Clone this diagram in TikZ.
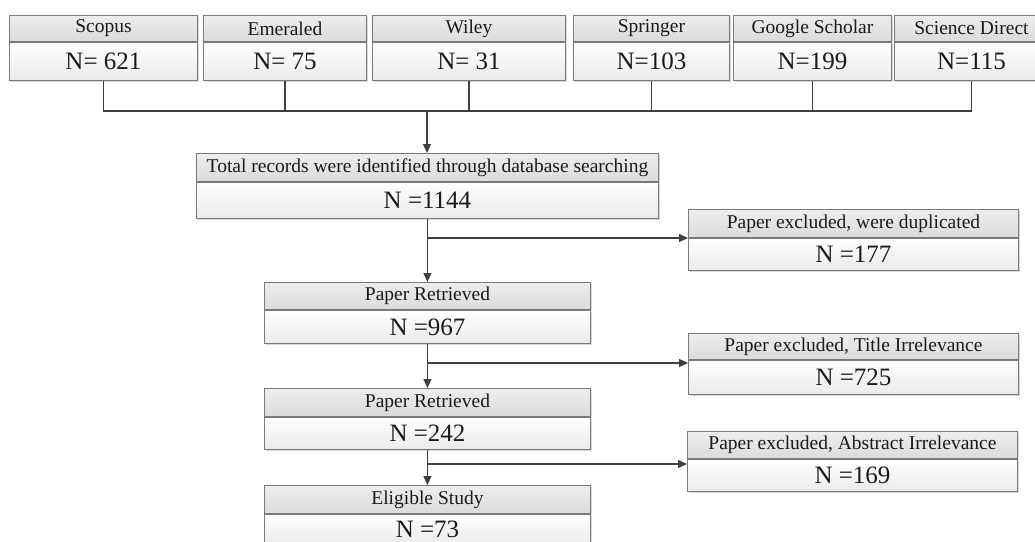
\documentclass[tikz,border=0pt]{standalone}
\usepackage{fontspec}
\setmainfont{Liberation Serif}
\usetikzlibrary{arrows.meta,shadows}
\definecolor{bordergray}{HTML}{7A7A7A}
\definecolor{linegray}{HTML}{404040}
\definecolor{txt}{HTML}{1A1A1A}
\tikzset{
  cellbase/.style={draw=bordergray, line width=0.9pt, inner sep=0pt, text=txt,
    drop shadow={shadow xshift=1.5pt, shadow yshift=-1.5pt, fill=black!30, opacity=0.5}},
  ttl/.style={cellbase, top color=white!93!black, bottom color=white!86!black,
    font=\fontsize{19.5}{21}\selectfont},
  numcell/.style={cellbase, top color=white, bottom color=white!92!black,
    font=\fontsize{25}{27}\selectfont},
  ln/.style={draw=linegray, line width=1.2pt},
  arr/.style={ln, -{Triangle[length=9pt,width=8pt]}}
}
% name, x-left, y-top, width, title height, number height, title, number
\newcommand{\dbx}[8]{%
  \node[ttl, anchor=north west, minimum width=#4pt, minimum height=#5pt] (#1t) at (#2,#3) {#7};
  \node[numcell, anchor=north, minimum width=#4pt, minimum height=#6pt] (#1) at (#1t.south) {#8};
}
\begin{document}
\begin{tikzpicture}[x=1pt,y=-1pt]
\fill[white] (0,0) rectangle (1035,541);
\clip (0,0) rectangle (1035,541);
% source boxes
\dbx{sc}{9}{15}{188}{26}{38}{Scopus}{N= 621}
\dbx{em}{203}{15}{163}{26}{38}{Emeraled}{N= 75}
\dbx{wi}{372}{15}{193}{26}{38}{Wiley}{N= 31}
\dbx{sp}{573}{15}{156}{26}{38}{Springer}{N=103}
\dbx{gs}{733}{15}{158}{26}{38}{Google Scholar}{N=199}
\dbx{sd}{894}{15}{154}{26}{38}{Science Direct}{N=115}
% main column
\dbx{tot}{196}{153}{462}{28}{36}{Total records were identified through database searching}{N =1144}
\dbx{pa}{264}{282}{326}{27}{33}{Paper Retrieved}{N =967}
\dbx{pb}{264}{388}{326}{28}{32}{Paper Retrieved}{N =242}
\dbx{el}{264}{485}{326}{28}{30}{Eligible Study}{N =73}
% exclusions
\dbx{ea}{688}{209}{330}{28}{32}{Paper excluded, were duplicated}{N =177}
\dbx{eb}{688}{333}{330}{26}{34}{Paper excluded, Title Irrelevance}{N =725}
\dbx{ec}{687}{431}{330}{27}{32}{Paper excluded, Abstract Irrelevance}{N =169}
% bus from sources
\coordinate (bus) at (427,111);
\draw[ln] (sc.south) -- (sc.south |- bus) -- (sd.south |- bus) -- (sd.south);
\foreach \n in {em,wi,sp,gs}{\draw[ln] (\n.south) -- (\n.south |- bus);}
\draw[arr] (bus) -- (bus |- tott.north);
% main flow
\draw[arr] (tot.south) -- (pat.north);
\draw[arr] (pa.south) -- (pbt.north);
\draw[arr] (pb.south) -- (elt.north);
% branches
\coordinate (b1) at (427,238);
\coordinate (b2) at (427,363);
\coordinate (b3) at (427,464);
\draw[arr] (b1) -- (b1 -| ea.west);
\draw[arr] (b2) -- (b2 -| eb.west);
\draw[arr] (b3) -- (b3 -| ec.west);
\end{tikzpicture}
\end{document}
